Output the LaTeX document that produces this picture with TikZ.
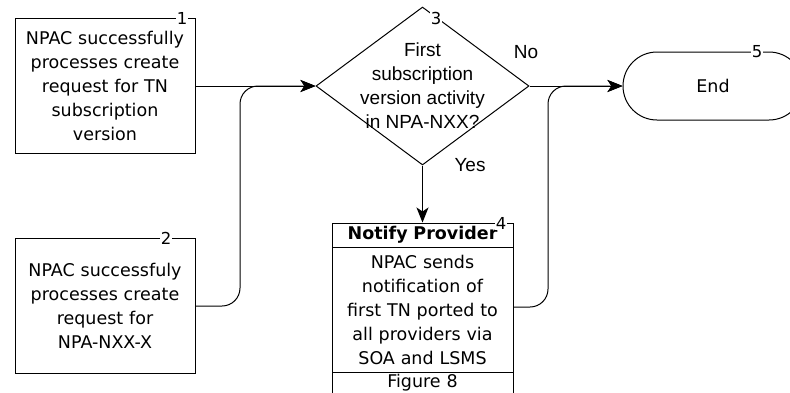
\documentclass[tikz,border=0pt]{standalone}
\usepackage{fontspec}
\setmainfont{DejaVu Sans}
\newfontfamily\arialfont{Liberation Sans}
\usetikzlibrary{shapes.geometric,arrows.meta}
\begin{document}
\begin{tikzpicture}[x=1pt,y=-1pt,
  every node/.style={font=\fontsize{17.5}{24}\selectfont},
  procbox/.style={draw,line width=1pt,inner sep=0pt,align=center,minimum width=180pt,minimum height=135pt,text width=175pt},
  numlbl/.style={fill=white,inner sep=1pt,font=\fontsize{16.5}{16.5}\selectfont},
  conn/.style={line width=1pt,rounded corners=18pt},
  arr/.style={conn,-{Stealth[length=15pt,width=12pt,inset=4pt]}},
  decbox/.style={draw,line width=1pt,shape=diamond,inner sep=0pt,minimum width=213pt,minimum height=158pt},
  cell/.style={draw,line width=1pt,inner sep=0pt,minimum width=181pt,align=center,text width=178pt},
  lbl/.style={font=\arialfont\fontsize{19}{24}\selectfont}
]
\useasboundingbox (0,0) rectangle (790,392);
\node[procbox] (b1) at (105,85.5) {NPAC successfully\\processes create\\request for TN\\subscription\\version};
\node[procbox] (b2) at (105,305.5) {NPAC successfuly\\processes create\\request for\\NPA-NXX-X};
\node[decbox] (d) at (422.5,86) {};
\node[lbl,align=center] (dt) at (422.5,86) {First\\subscription\\version activity\\in NPA-NXX?};
\node[cell,minimum height=24pt,font=\bfseries\fontsize{17.5}{24}\selectfont] (b4) at (422.5,235) {Notify Provider};
\node[cell,minimum height=125pt] (b4body) at (422.5,309.5) {NPAC sends\\notification of\\first TN ported to\\all providers via\\SOA and LSMS};
\node[cell,text height=14.5pt,text depth=13.5pt,anchor=north] (b4fig) at (422.5,372) {Figure 8};
\node[draw,line width=1pt,rounded corners=34pt,minimum width=180pt,minimum height=68pt,inner sep=0pt] (e) at (713,86) {End};
\node[numlbl] (n1) at (182,18) {1};
\node[numlbl] (n2) at (166,238) {2};
\node[numlbl] (n3) at (436,18) {3};
\node[numlbl] (n4) at (501,223) {4};
\node[numlbl] (n5) at (757,52) {5};
\node[lbl] (no) at (526,52) {No};
\node[lbl] (yes) at (470,165) {Yes};
\coordinate (j1) at (240,306);
\coordinate (j2) at (548,307);
\draw[arr] (b1.east |- d.west) -- (d.west);
\draw[arr] (b2.east |- j1) -- (j1) -- (j1 |- d.west) -- (d.west);
\draw[arr] (d.south) -- (b4.north);
\draw[arr] (d.east) -- (e.west);
\draw[arr] (b4body.east |- j2) -- (j2) -- (j2 |- e.west) -- (e.west);
\end{tikzpicture}
\end{document}
